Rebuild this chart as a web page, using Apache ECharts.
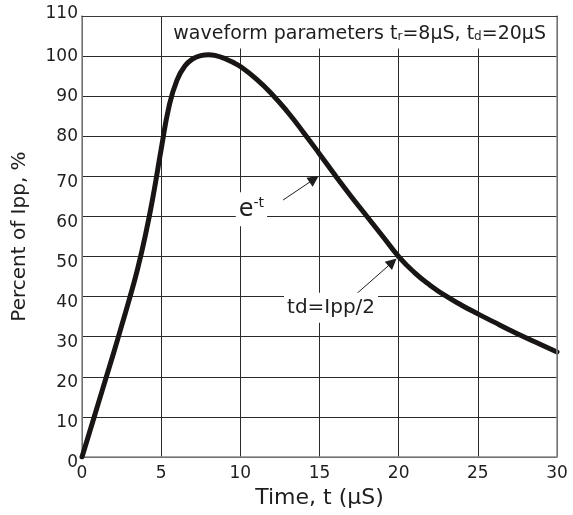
<!DOCTYPE html>
<html><head><meta charset="utf-8">
<script src="https://cdn.jsdelivr.net/npm/echarts@6/dist/echarts.min.js"></script>
<style>html,body{margin:0;padding:0;background:#fff}#c{width:573px;height:515px}</style>
</head><body><div id="c"></div>
<script>
// ---- data ----
const timeUs     = [0, 0.5, 1,  1.5,  2,  2.5,  3,    3.5,   4,     4.5,   5,     5.5,  6,  6.5,  7,    7.5,   8,      8.5,    9,    9.5,  10,   11,   12,   13, 14,   15,   16,   17, 18, 19, 20, 21, 22,   23,   24,   25,   26,   27,   28,   29, 30];
const percentIpp = [0, 6.5, 13, 19.5, 26, 32.7, 39.5, 46.75, 55.25, 65.25, 76.75, 87.5, 94, 97.5, 99.3, 100.1, 100.35, 100.05, 99.4, 98.5, 97.4, 94.3, 90.5, 86, 80.9, 75.6, 70.2, 65, 60, 55, 50, 46, 42.8, 40.1, 37.8, 35.7, 33.7, 31.7, 29.8, 28, 26.2];
const xTickValues = [0, 5, 10, 15, 20, 25, 30];
const yTickValues = [0, 10, 20, 30, 40, 50, 60, 70, 80, 90, 100, 110];
const xTitle = 'Time, t (μS)';
const yTitle = 'Percent of Ipp, %';
const boxParts = ['waveform parameters t', 'r', '=8μS, t', 'd', '=20μS'];
const noteExp = ['e', '-t'];
const noteTd = 'td=Ipp/2';

const FONT = 'DejaVu Sans';
const TXT = '#1e1e1e';
const chart = echarts.init(document.getElementById('c'), null, {renderer: 'canvas'});

const points = timeUs.map((t, i) => [t, percentIpp[i]]);

const option = {
  animation: false,
  backgroundColor: '#fff',
  grid: {left: 82, right: 16, top: 16, bottom: 58, containLabel: false},
  xAxis: [{
    type: 'value', min: xTickValues[0], max: xTickValues[xTickValues.length - 1], interval: 5,
    position: 'bottom',
    axisLine: {show: true, onZero: false, lineStyle: {color: '#8a8a8a', width: 1.5}},
    axisTick: {show: false},
    splitLine: {show: true, lineStyle: {color: '#2a2a2a', width: 1}},
    axisLabel: {fontFamily: FONT, fontSize: 17, color: TXT, margin: 8},
    name: xTitle, nameLocation: 'middle', nameGap: 30,
    nameTextStyle: {fontFamily: FONT, fontSize: 22, color: TXT}
  }, {
    type: 'value', min: 0, max: 30, interval: 5, position: 'top', z: 10,
    axisLine: {show: true, onZero: false, lineStyle: {color: '#3a3a3a', width: 1.2}},
    axisTick: {show: false}, axisLabel: {show: false}, splitLine: {show: false}
  }],
  yAxis: [{
    type: 'value', min: yTickValues[0], max: yTickValues[yTickValues.length - 1], interval: 10,
    position: 'left',
    axisLine: {show: true, onZero: false, lineStyle: {color: '#8a8a8a', width: 1.5}},
    axisTick: {show: false},
    splitLine: {show: true, lineStyle: {color: '#2a2a2a', width: 1}},
    axisLabel: {
      fontFamily: FONT, fontSize: 17, color: TXT, margin: 4,
      formatter: v => v <= 70 ? '{lo|' + v + '}' : (v >= 110 ? '{hi|' + v + '}' : '{n|' + v + '}'),
      rich: {
        lo: {fontFamily: FONT, fontSize: 17, color: TXT, padding: [12, 0, 0, 0]},
        hi: {fontFamily: FONT, fontSize: 17, color: TXT, padding: [0, 0, 5, 0]},
        n: {fontFamily: FONT, fontSize: 17, color: TXT}
      }
    },
    name: yTitle, nameLocation: 'middle', nameGap: 52, nameRotate: 90,
    nameTextStyle: {fontFamily: FONT, fontSize: 20, color: TXT}
  }, {
    type: 'value', min: 0, max: 110, interval: 10, position: 'right', z: 10,
    axisLine: {show: true, onZero: false, lineStyle: {color: '#8a8a8a', width: 1.5}},
    axisTick: {show: false}, axisLabel: {show: false}, splitLine: {show: false}
  }],
  series: [{
    type: 'line', z: 1, data: [], silent: true,
    markArea: {
      silent: true,
      itemStyle: {color: '#fff', borderWidth: 0},
      label: {
        show: true, position: 'inside',
        formatter: '{a|' + boxParts[0] + '}{s|' + boxParts[1] + '}{a|' + boxParts[2] + '}{s|' + boxParts[3] + '}{a|' + boxParts[4] + '}',
        rich: {
          a: {fontFamily: FONT, fontSize: 19, color: TXT, lineHeight: 22, verticalAlign: 'bottom'},
          s: {fontFamily: FONT, fontSize: 12, color: TXT, lineHeight: 17, verticalAlign: 'bottom'}
        }
      },
      data: [[{coord: [5.07, 110]}, {coord: [30, 101.9]}]]
    },
    markLine: {
      silent: true,
      symbol: ['none', 'triangle'], symbolSize: 11,
      itemStyle: {color: '#1e1e1e'},
      lineStyle: {color: '#1e1e1e', width: 1, type: 'solid'},
      label: {show: false},
      data: [
        [{coord: [12.7, 64.1]}, {coord: [14.66, 69.3]}],
        [{coord: [17.25, 40.4]}, {coord: [19.61, 48.6]}]
      ]
    },
    markPoint: {
      silent: true,
      symbol: 'rect', symbolSize: 1,
      itemStyle: {color: 'rgba(0,0,0,0)'},
      data: [{
        coord: [10.7, 61.8],
        label: {
          show: true, position: 'inside', backgroundColor: '#fff', padding: [4, 3, 4, 3],
          formatter: '{e|' + noteExp[0] + '}{p|' + noteExp[1] + '}',
          rich: {
            e: {fontFamily: FONT, fontSize: 24, color: TXT, lineHeight: 26, verticalAlign: 'bottom'},
            p: {fontFamily: FONT, fontSize: 14, color: TXT, lineHeight: 26, verticalAlign: 'top'}
          }
        }
      }, {
        coord: [15.73, 37.2],
        label: {
          show: true, position: 'inside', backgroundColor: '#fff', padding: [5, 3, 5, 3],
          formatter: noteTd,
          fontFamily: FONT, fontSize: 20, color: TXT
        }
      }]
    }
  }, {
    type: 'line', z: 5, data: points, smooth: 0.5, showSymbol: false, silent: true,
    lineStyle: {color: '#1a1515', width: 5, cap: 'round', join: 'round'},
    xAxisIndex: 0, yAxisIndex: 0
  }]
};
chart.setOption(option);
</script>
</body></html>
